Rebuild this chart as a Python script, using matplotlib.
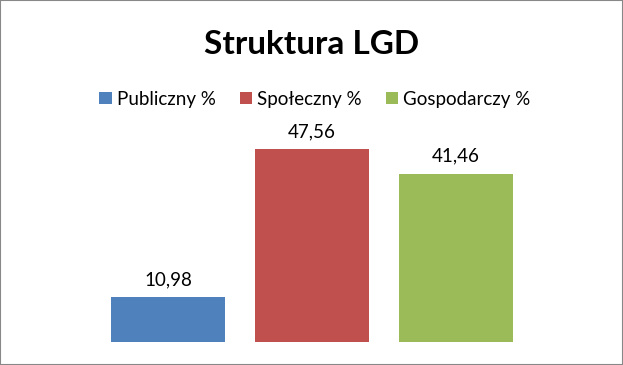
import matplotlib.pyplot as plt
from matplotlib.patches import Patch, Rectangle

categories = ["Publiczny %", "Społeczny %", "Gospodarczy %"]
values = [10.98, 47.56, 41.46]
labels = ["10,98", "47,56", "41,46"]
colors = ["#4F81BD", "#C0504D", "#9BBB59"]

plt.rcParams['font.family'] = ['Lato', 'DejaVu Sans']

fig = plt.figure(figsize=(6.23, 3.65), dpi=100)
ax = fig.add_axes([96 / 623, 23 / 365, 432 / 623, 202.9 / 365])

x = range(len(values))
ax.bar(x, values, width=0.79, color=colors)
for xi, v, lab in zip(x, values, labels):
    ax.text(xi, v + 2.2, lab, ha='center', va='bottom', fontsize=13.5, color='#000000')

ax.set_xlim(-0.5, 2.5)
ax.set_ylim(0, 50)
ax.axis('off')

fig.text(0.5, 1 - 45 / 365, "Struktura LGD", ha='center', va='center',
         fontsize=24, fontweight='bold')

handles = [Patch(facecolor=c, edgecolor='none') for c in colors]
fig.legend(handles, categories, loc='center', bbox_to_anchor=(315 / 623, 1 - 99 / 365),
           ncol=3, frameon=False, fontsize=13.5, handlelength=0.65, handleheight=0.65,
           handletextpad=0.27, columnspacing=1.3)

fig.patches.append(Rectangle((0, 0), 1, 1, transform=fig.transFigure, fill=False,
                             edgecolor='#888888', linewidth=1.5))

fig.savefig("out.png", dpi=100)
